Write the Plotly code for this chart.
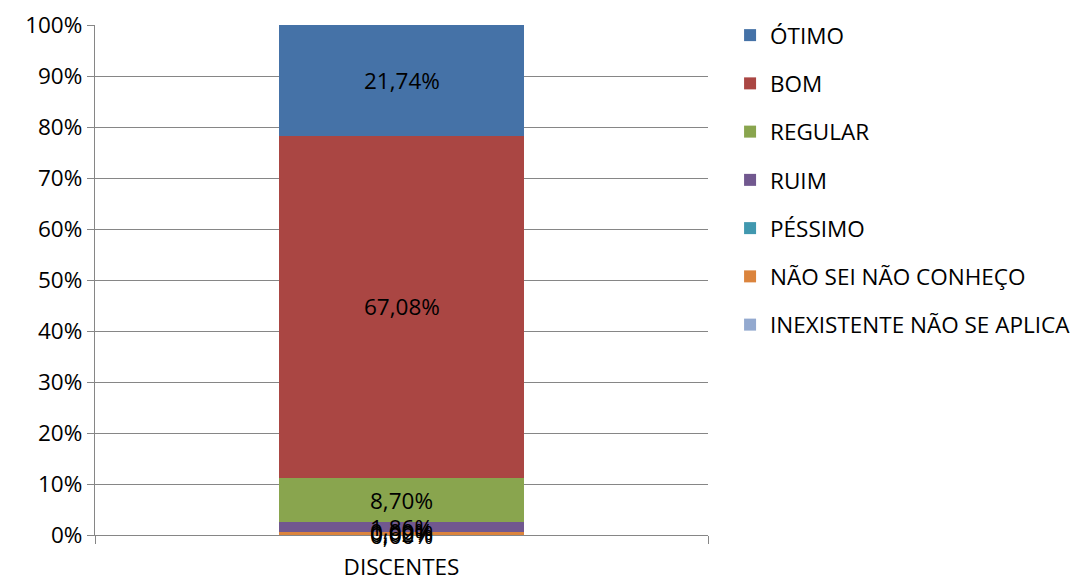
import plotly.graph_objects as go

categories = ["DISCENTES"]
series_names = ["INEXISTENTE NÃO SE APLICA", "NÃO SEI NÃO CONHEÇO", "PÉSSIMO", "RUIM", "REGULAR", "BOM", "ÓTIMO"]
series_values = [0.00, 0.62, 0.00, 1.86, 8.70, 67.08, 21.74]
series_colors = ["#93A9CF", "#DB843D", "#4198AF", "#71588F", "#89A54E", "#AA4643", "#4572A7"]
y_ticks = [0, 10, 20, 30, 40, 50, 60, 70, 80, 90, 100]

FONT = "Open Sans, sans-serif"
FS = 22.5
fig = go.Figure()
n = len(series_names)
for i, (name, val, col) in enumerate(zip(series_names, series_values, series_colors)):
    fig.add_trace(go.Bar(
        x=categories, y=[val], name=name, marker=dict(color=col, line=dict(width=0)),
        width=0.4, legendgroup=str(i), legendrank=n - i,
    ))

cum = 0
for val in series_values:
    fig.add_annotation(x=categories[0], y=cum + val / 2, text=f"{val:.2f}%".replace(".", ","),
                       showarrow=False, font=dict(family=FONT, size=FS, color="black"))
    cum += val

# page body adds an 8px offset; figure sized to fit the 1083x578 window
fig.update_layout(
    barmode="stack",
    width=1075, height=570,
    margin=dict(l=87, r=375, t=17, b=43, autoexpand=False),
    paper_bgcolor="white", plot_bgcolor="white",
    font=dict(family=FONT, size=FS, color="black"),
    legend=dict(traceorder="grouped", tracegroupgap=16, x=1.036, y=0.3706, xanchor="left", yanchor="bottom",
                font=dict(family=FONT, size=FS), itemwidth=30),
    xaxis=dict(range=[-0.5, 0.5], showline=True, linecolor="#868686", linewidth=1.3, automargin=False,
               ticks="outside", tickson="boundaries", ticklen=8, tickcolor="#868686", showgrid=False,
               ticklabelstandoff=12),
    yaxis=dict(range=[0, 100], tickvals=y_ticks, ticktext=[f"{v}%" for v in y_ticks], automargin=False,
               showline=True, linecolor="#868686", linewidth=1.3, ticks="outside", ticklen=7,
               tickcolor="#868686", showgrid=True, gridcolor="#868686", gridwidth=1.3, zeroline=False),
)
fig.write_html("out.html")
